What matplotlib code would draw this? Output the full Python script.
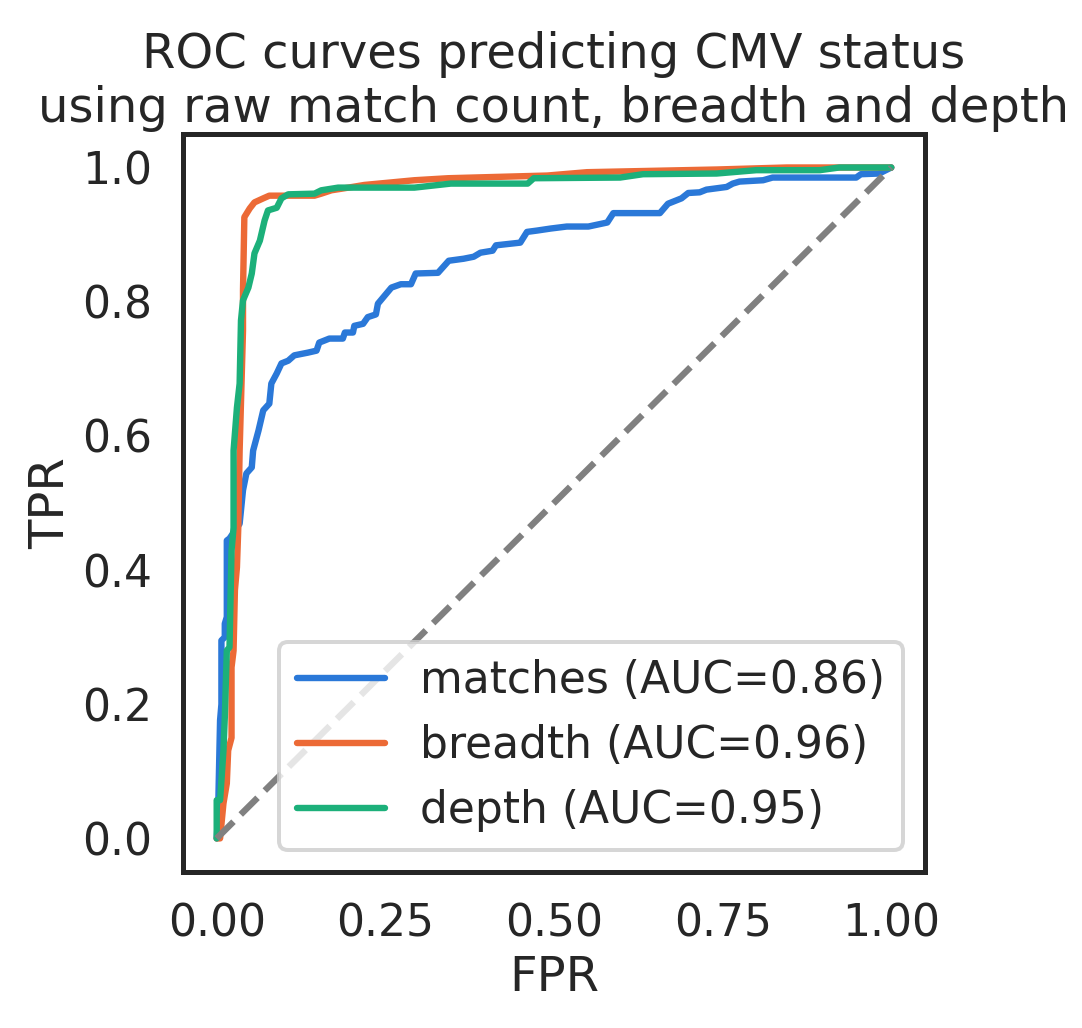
import numpy as np
import matplotlib; matplotlib.use("Agg")
import matplotlib.pyplot as plt
import seaborn as sns

# ROC points (FPR, TPR)
matches_fpr = [0.0, 0.002, 0.003, 0.005, 0.007, 0.007, 0.012, 0.012, 0.015, 0.015, 0.019, 0.034,
               0.039, 0.044, 0.052, 0.054, 0.062, 0.069, 0.078, 0.081, 0.089, 0.096, 0.106, 0.115,
               0.135, 0.148, 0.152, 0.167, 0.187, 0.190, 0.202, 0.204, 0.217, 0.224, 0.236, 0.239,
               0.259, 0.273, 0.288, 0.295, 0.328, 0.344, 0.366, 0.381, 0.391, 0.409, 0.414, 0.450,
               0.460, 0.475, 0.495, 0.519, 0.551, 0.579, 0.588, 0.657, 0.669, 0.689, 0.699, 0.716,
               0.726, 0.756, 0.765, 0.775, 0.810, 0.824, 0.948, 0.955, 0.982, 1.0]
matches_tpr = [0.0, 0.032, 0.082, 0.176, 0.200, 0.295, 0.300, 0.320, 0.330, 0.444, 0.447, 0.469,
               0.519, 0.544, 0.553, 0.578, 0.608, 0.638, 0.648, 0.678, 0.693, 0.708, 0.712, 0.720,
               0.724, 0.727, 0.739, 0.745, 0.745, 0.754, 0.754, 0.764, 0.767, 0.777, 0.781, 0.797,
               0.821, 0.826, 0.826, 0.842, 0.843, 0.861, 0.864, 0.867, 0.873, 0.876, 0.884, 0.888,
               0.904, 0.906, 0.909, 0.912, 0.912, 0.918, 0.932, 0.932, 0.946, 0.954, 0.962, 0.963,
               0.967, 0.971, 0.976, 0.979, 0.981, 0.985, 0.985, 0.990, 0.991, 1.0]

breadth_fpr = [0.0, 0.005, 0.010, 0.015, 0.017, 0.022, 0.022, 0.025, 0.027, 0.030, 0.032, 0.034,
               0.036, 0.039, 0.039, 0.041, 0.049, 0.056, 0.069, 0.078, 0.145, 0.155, 0.170, 0.189,
               0.219, 0.293, 0.343, 0.490, 0.549, 0.741, 0.845, 1.0]
breadth_tpr = [0.0, 0.0, 0.052, 0.082, 0.131, 0.150, 0.255, 0.280, 0.370, 0.404, 0.463, 0.578,
               0.650, 0.757, 0.817, 0.926, 0.939, 0.948, 0.954, 0.958, 0.958, 0.961, 0.966, 0.969,
               0.974, 0.981, 0.984, 0.988, 0.993, 0.997, 1.0, 1.0]

depth_fpr = [0.0, 0.0, 0.0, 0.005, 0.007, 0.010, 0.012, 0.015, 0.019, 0.022, 0.025, 0.025,
             0.030, 0.034, 0.036, 0.039, 0.047, 0.052, 0.056, 0.064, 0.071, 0.076, 0.089, 0.096,
             0.106, 0.145, 0.155, 0.180, 0.293, 0.347, 0.461, 0.470, 0.598, 0.632, 0.741, 0.800,
             0.894, 0.923, 1.0]
depth_tpr = [0.0, 0.032, 0.057, 0.057, 0.086, 0.131, 0.180, 0.280, 0.285, 0.429, 0.463, 0.578,
             0.642, 0.678, 0.772, 0.802, 0.821, 0.842, 0.872, 0.891, 0.921, 0.936, 0.940, 0.954,
             0.960, 0.961, 0.966, 0.970, 0.970, 0.976, 0.976, 0.984, 0.985, 0.990, 0.991, 0.996,
             0.996, 1.0, 1.0]

labels = ["matches (AUC=0.86)", "breadth (AUC=0.96)", "depth (AUC=0.95)"]
colors = ["#2a78d8", "#ec6a36", "#1cb07a"]

sns.set_theme(context="poster", style="white")

fig = plt.figure(figsize=(1082/144, 1028/144), dpi=144)
ax = fig.add_axes([0.1691, 0.1518, 0.6858, 0.7179])

for f, t, lab, c in zip([matches_fpr, breadth_fpr, depth_fpr],
                        [matches_tpr, breadth_tpr, depth_tpr], labels, colors):
    ax.plot(f, t, color=c, label=lab, lw=3.2)
ax.plot([0, 1], [0, 1], color="grey", ls="--", lw=3.2, zorder=3)

ax.set_xticks([0, 0.25, 0.5, 0.75, 1.0])
ax.set_yticks([0, 0.2, 0.4, 0.6, 0.8, 1.0])
ax.set_xlabel("FPR")
ax.set_ylabel("TPR")
ax.set_title("ROC curves predicting CMV status\nusing raw match count, breadth and depth")
ax.legend(loc="lower right")

fig.savefig("out.png", dpi=144)
